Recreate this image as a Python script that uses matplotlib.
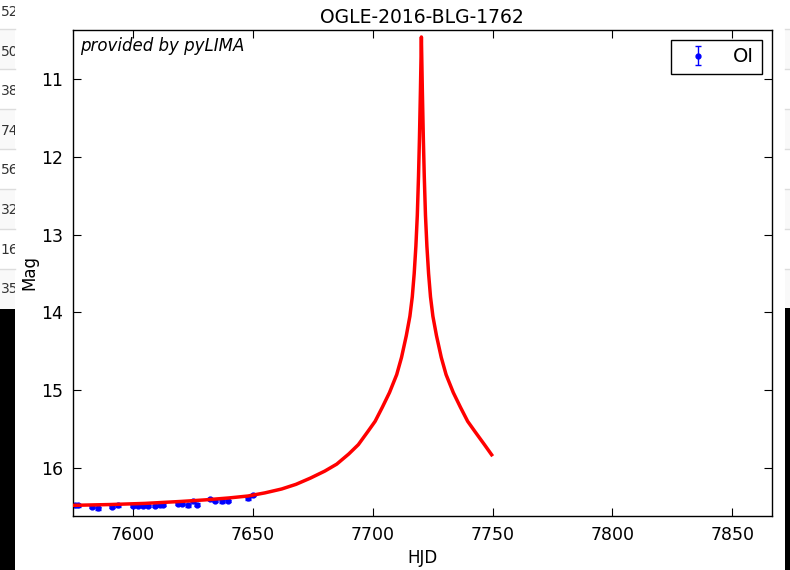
import matplotlib
matplotlib.use("Agg")
import matplotlib.pyplot as plt
from matplotlib.patches import Rectangle
from matplotlib.transforms import Bbox

# ---- data ----
title = "OGLE-2016-BLG-1762"
obs_hjd = [7575.7, 7576.9, 7582.8, 7585.3, 7591.1, 7593.6, 7599.9, 7602.0,
           7604.0, 7606.1, 7609.1, 7611.2, 7612.4, 7618.7, 7620.3, 7622.8,
           7624.9, 7626.6, 7632.0, 7634.1, 7637.1, 7639.5, 7647.9, 7650.0]
obs_mag = [16.48, 16.48, 16.50, 16.52, 16.50, 16.48, 16.49, 16.49,
           16.49, 16.49, 16.49, 16.47, 16.47, 16.46, 16.46, 16.48,
           16.42, 16.47, 16.40, 16.42, 16.43, 16.42, 16.39, 16.35]
obs_err = [0.015] * len(obs_hjd)

model_hjd = [7575, 7590, 7605, 7620, 7630, 7640, 7648, 7655, 7662, 7668,
             7674, 7680, 7685, 7690, 7694, 7698, 7701, 7704, 7707, 7710,
             7712, 7714, 7715.5, 7716.5, 7717.3, 7718, 7718.6, 7719.1, 7719.5,
             7719.9, 7720.3,
             7720.7, 7721.1, 7721.5, 7722.0, 7722.6, 7723.3, 7724.1, 7725.1,
             7726.6, 7728.6, 7730.6, 7733.6, 7736.6, 7739.6, 7742.6, 7746.6,
             7749.6]
model_mag = [16.48, 16.47, 16.455, 16.43, 16.41, 16.385, 16.36, 16.32, 16.27, 16.21,
             16.13, 16.04, 15.95, 15.82, 15.70, 15.53, 15.40, 15.22, 15.03, 14.80,
             14.58, 14.30, 14.05, 13.80, 13.50, 13.15, 12.75, 12.25, 11.75,
             11.15, 10.46,
             11.15, 11.75, 12.25, 12.75, 13.15, 13.50, 13.80, 14.05,
             14.30, 14.58, 14.80, 15.03, 15.22, 15.40, 15.53, 15.70,
             15.83]

yticks = [11, 12, 13, 14, 15, 16]
xticks = [7600, 7650, 7700, 7750, 7800, 7850]
table_left = ["52", "50", "38", "74", "56", "32", "16", "35"]

fig = plt.figure(figsize=(7.9, 5.7), dpi=100, facecolor="white")
W, H = 790, 570

# ---- screenshot background fragments ----
def px(x0, y0, w, h):
    return (x0 / W, 1 - (y0 + h) / H, w / W, h / H)

for i in range(8):
    y0 = -11 + 40 * i
    fc = "#f9f9f9" if i % 2 else "#ffffff"
    x, y, w, h = px(0, y0, 15, 40)
    fig.patches.append(Rectangle((x, y), w, h, transform=fig.transFigure,
                                 facecolor=fc, edgecolor="none", zorder=-5))
    x, y, w, h = px(785, y0, 5, 40)
    fig.patches.append(Rectangle((x, y), w, h, transform=fig.transFigure,
                                 facecolor=fc, edgecolor="none", zorder=-5))
for i in range(1, 8):
    yl = 1 - (29 + 40 * (i - 1)) / H
    fig.add_artist(plt.Line2D([0, 15 / W], [yl, yl], transform=fig.transFigure,
                              color="#dddddd", lw=1, zorder=-4))
    fig.add_artist(plt.Line2D([785 / W, 1], [yl, yl], transform=fig.transFigure,
                              color="#dddddd", lw=1, zorder=-4))
clipbox = Bbox.from_extents(0, 0, 15, H)
for i, s in enumerate(table_left):
    yc = 12 + 39.6 * i
    t = fig.text(0.5 / W, 1 - yc / H, s, ha="left", va="center", fontsize=10,
                 color="#333333", zorder=-3)
    t.set_clip_box(clipbox)
    t.set_clip_on(True)
x, y, w, h = px(0, 309, 15, 261)
fig.patches.append(Rectangle((x, y), w, h, transform=fig.transFigure,
                             facecolor="black", edgecolor="none", zorder=-2))
x, y, w, h = px(785, 308, 5, 262)
fig.patches.append(Rectangle((x, y), w, h, transform=fig.transFigure,
                             facecolor="black", edgecolor="none", zorder=-2))

# ---- axes ----
ax = fig.add_axes([73 / W, 1 - 516 / H, (771.7 - 73) / W, (516 - 30) / H])
ax.errorbar(obs_hjd, obs_mag, yerr=obs_err, fmt=".", color="blue",
            ecolor="blue", markersize=7, elinewidth=1, capsize=2, label="OI",
            zorder=2)
ax.plot(model_hjd, model_mag, color="red", lw=2.5, zorder=3,
        solid_joinstyle="round")

ax.set_xlim(7575, 7866.4)
ax.set_ylim(16.617, 10.37)
ax.set_xticks(xticks)
ax.set_yticks(yticks)
ax.tick_params(direction="in", top=True, right=True, length=6, width=0.8,
               labelsize=12.5, pad=7)
for sp in ax.spines.values():
    sp.set_linewidth(1.0)
ax.set_title(title, fontsize=13.5, pad=5)
ax.set_xlabel("HJD", fontsize=12, labelpad=4)
ax.set_ylabel("Mag", fontsize=12, labelpad=2)
ax.text(0.01, 0.985, "provided by pyLIMA", transform=ax.transAxes,
        ha="left", va="top", fontsize=12, style="italic")
leg = ax.legend(loc="upper right", fontsize=14, numpoints=1, fancybox=False,
                framealpha=1, edgecolor="black", borderaxespad=0.5,
                handlelength=2.0)
leg.get_frame().set_linewidth(1.0)

fig.savefig("out.png", dpi=100, facecolor="white")
